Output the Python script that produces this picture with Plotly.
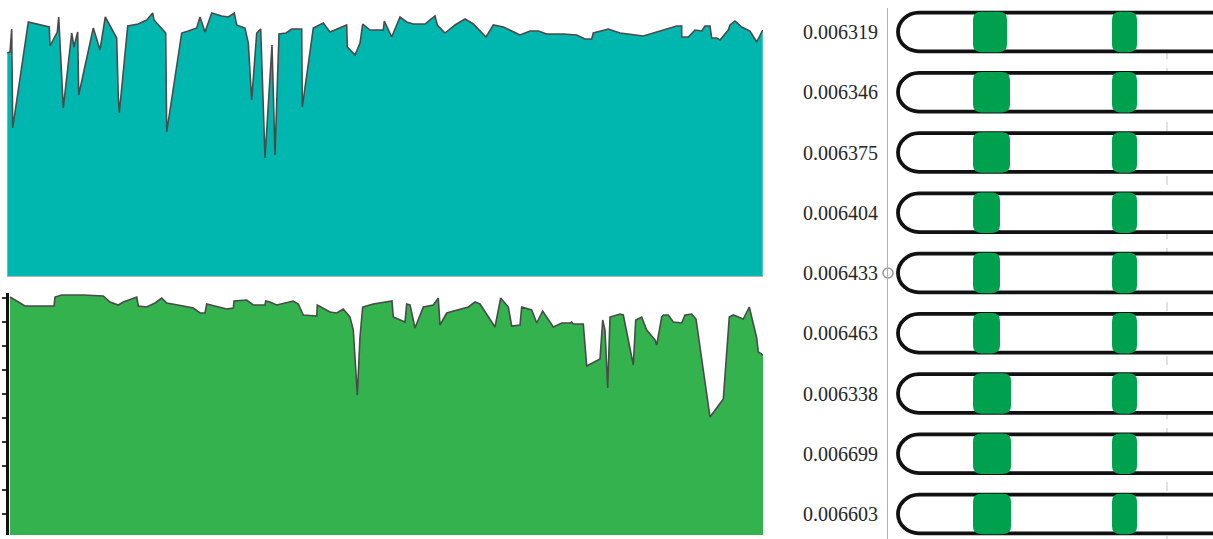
import plotly.graph_objects as go

# ---------------- data ----------------
top_x = [7.3, 10, 11.7, 12.7, 28.3, 40, 49.3, 50, 57.3, 58.7, 63.3, 71.7, 74, 77.7, 78.7, 93.3, 100, 105.3,
         116.7, 118.3, 119.3, 127.7, 138.3, 146.7, 152.7, 154, 165.7, 166.7, 181.7, 188.3, 196.7, 200, 205,
         211.7, 221.7, 228.3, 234.3, 236.7, 245, 248.3, 251.7, 256.7, 260.7, 265, 272, 275, 279, 286, 291.7,
         301.7, 302.3, 313.3, 323.3, 330, 346.7, 347.3, 355, 360, 362.7, 370, 383.3, 384.3, 391.7, 400, 406.7,
         413.3, 425, 435, 437.3, 445, 455, 465, 473.3, 486, 493.3, 503.3, 520, 530, 538.3, 546.7, 563.3, 576.7,
         585, 591.7, 593.3, 608.3, 620, 643.3, 663.3, 676.7, 681.7, 681.7, 688.3, 695, 701.7, 705, 710, 711.7,
         716.7, 720, 728.3, 730, 735, 741.7, 750, 756.7, 762.7]
top_v = [223, 224, 247, 148, 254, 251, 249, 230, 244, 259, 168, 243, 229, 244, 181, 248, 226, 259,
         238, 179, 163, 250, 252, 256, 263, 256, 243, 144, 243, 245, 248, 259, 244,
         263, 260, 259, 263, 251, 248, 233, 176, 243, 247, 118, 231, 121, 242, 243, 247,
         247, 169, 248, 253, 244, 251, 229, 221, 233, 252, 246, 246, 255, 239, 259, 254,
         252, 252, 260, 251, 243, 251, 257, 252, 239, 251, 249, 241, 245, 245, 242, 242, 241,
         237, 237, 243, 247, 243, 240, 246, 250, 250, 239, 239, 246, 245, 250, 250, 238,
         238, 236, 246, 251, 255, 249, 245, 234, 246]

bot_x = [10, 25, 54, 55, 61.7, 83.3, 103.3, 110, 118.3, 123.3, 136.7, 138.3, 146.7, 155, 161.7, 166.7,
         183.3, 193.3, 200, 205, 206.7, 226.7, 233.3, 234, 246.7, 253.3, 265, 265.7, 270, 276.7, 293.3,
         298.3, 303.3, 316.7, 317.3, 330, 336.7, 343.3, 350, 353.3, 357.3, 360, 362.7, 373.3, 392,
         393.3, 405, 406.7, 410, 415, 423.3, 433.3, 438.3, 440, 446.7, 460, 468.3, 475, 480, 495,
         500.7, 508.3, 511.7, 520, 521.7, 531.7, 536.7, 542.7, 546.7, 553.3, 561.7, 570, 571.7, 573.3,
         583.3, 586.7, 600, 602.7, 605, 607.7, 610, 620, 623.3, 633.3, 635.7, 641.7, 646.7, 655, 656.7,
         661.7, 663.3, 668.3, 673.3, 681.7, 685, 691.7, 696, 710, 723.3, 729.3, 733.3, 743.3, 749.3,
         753.3, 756.7, 758.3, 763.3]
bot_v = [238, 229, 229, 238, 240, 240, 239, 233, 230, 233, 238, 229, 228, 232, 237, 232,
         229, 227, 222, 222, 231, 226, 227, 234, 235, 230, 230, 234, 233, 230, 234,
         231, 220, 219, 230, 223, 222, 226, 218, 205, 140, 198, 228, 231, 234,
         218, 213, 231, 230, 207, 228, 230, 237, 210, 222, 226, 228, 233, 231, 208,
         237, 228, 209, 210, 228, 225, 212, 224, 218, 208, 212, 212, 213, 211,
         211, 169, 176, 215, 205, 147, 218, 221, 220, 170, 215, 218, 205, 195, 190,
         218, 220, 220, 213, 212, 220, 221, 216, 118, 136, 218, 220, 216, 228,
         212, 197, 183, 180]

row_labels = ["0.006319", "0.006346", "0.006375", "0.006404", "0.006433",
              "0.006463", "0.006338", "0.006699", "0.006603"]
block1_start = [85, 85, 85, 85, 85, 85, 85, 85, 85]
block1_end = [119, 122, 122, 112, 112, 112, 123, 123, 123]
block2_start = [224, 224, 224, 224, 224, 224, 224, 224, 224]
block2_end = [249, 249, 249, 249, 249, 249, 249, 249, 249]
selected_row = 4
marker_pos = 279

# ---------------- figure ----------------
W, H = 1213, 539
OUT = "#4a4a4a"
fig = go.Figure()

fig.add_trace(go.Scatter(x=top_x, y=top_v, mode="lines", fill="tozeroy",
                         fillcolor="#00b7af", line=dict(color=OUT, width=1.6),
                         xaxis="x", yaxis="y", showlegend=False, hoverinfo="skip"))
fig.add_trace(go.Scatter(x=bot_x, y=bot_v, mode="lines", fill="tozeroy",
                         fillcolor="#33b24d", line=dict(color=OUT, width=1.6),
                         xaxis="x2", yaxis="y2", showlegend=False, hoverinfo="skip"))
fig.add_trace(go.Scatter(x=[0], y=[selected_row], mode="markers",
                         marker=dict(symbol="circle", size=10, color="white",
                                     line=dict(color="#9a9a9a", width=1.6)),
                         cliponaxis=False, xaxis="x3", yaxis="y3",
                         showlegend=False, hoverinfo="skip"))

shapes = []
n = len(row_labels)
shapes.append(dict(type="line", xref="x3", yref="y3", x0=marker_pos, x1=marker_pos,
                   y0=0, y1=n, line=dict(color="#c4c4c4", width=1, dash="dash"),
                   layer="below"))
h = 0.32
k = 0.5523
x0 = 10
r = 21
xe = 345
for i in range(n):
    yt, yb = i - h, i + h
    path = (f"M {xe},{yt} L {x0 + r},{yt} "
            f"C {x0 + r - k * r},{yt} {x0},{i - k * h} {x0},{i} "
            f"C {x0},{i + k * h} {x0 + r - k * r},{yb} {x0 + r},{yb} "
            f"L {xe},{yb} Z")
    shapes.append(dict(type="path", xref="x3", yref="y3", path=path,
                       fillcolor="white", line=dict(color="#111111", width=3.8),
                       layer="above"))
hb = 0.335
rx, ry = 8, 0.13
for i in range(n):
    for a, b in ((block1_start[i], block1_end[i]), (block2_start[i], block2_end[i])):
        yt, yb = i - hb, i + hb
        path = (f"M {a + rx},{yt} L {b - rx},{yt} Q {b},{yt} {b},{yt + ry} "
                f"L {b},{yb - ry} Q {b},{yb} {b - rx},{yb} L {a + rx},{yb} "
                f"Q {a},{yb} {a},{yb - ry} L {a},{yt + ry} Q {a},{yt} {a + rx},{yt} Z")
        shapes.append(dict(type="path", xref="x3", yref="y3", path=path,
                           fillcolor="#00a14e", line=dict(width=0), layer="above"))

y3_top = -24 / 60.25
y3_bot = (H - 32) / 60.25

fig.update_layout(
    width=W, height=H,
    margin=dict(l=0, r=0, t=0, b=0),
    paper_bgcolor="white", plot_bgcolor="white",
    showlegend=False,
    xaxis=dict(domain=[7 / W, 763 / W], range=[7, 763], anchor="y",
               showline=True, linecolor="#b5b5b5", linewidth=1,
               showticklabels=False, ticks="", showgrid=False, zeroline=False),
    yaxis=dict(domain=[263 / H, 1], range=[0, 276], anchor="x",
               visible=False, showgrid=False, zeroline=False),
    xaxis2=dict(domain=[9 / W, 763 / W], range=[9, 763], anchor="y2",
                visible=False, showgrid=False, zeroline=False),
    yaxis2=dict(domain=[4 / H, 246 / H], range=[0, 242], anchor="x2",
                showline=True, linecolor="#111111", linewidth=2.5,
                ticks="outside", ticklen=4, tickwidth=1.5, tickcolor="#333333",
                tickvals=[21 + 24 * j for j in range(10)],
                showticklabels=False, showgrid=False, zeroline=False),
    xaxis3=dict(domain=[888 / W, 1], range=[0, 325], anchor="y3",
                visible=False, showgrid=False, zeroline=False),
    yaxis3=dict(domain=[0, (H - 8) / H], range=[y3_bot, y3_top], anchor="x3",
                showline=True, linecolor="#b0b0b0", linewidth=1,
                ticks="", tickvals=list(range(n)), ticktext=row_labels,
                ticklabelstandoff=5,
                tickfont=dict(family="Liberation Serif, Times New Roman, serif",
                              size=20, color="#262626"),
                showgrid=False, zeroline=False),
    shapes=shapes,
)

fig.write_html("out.html")
